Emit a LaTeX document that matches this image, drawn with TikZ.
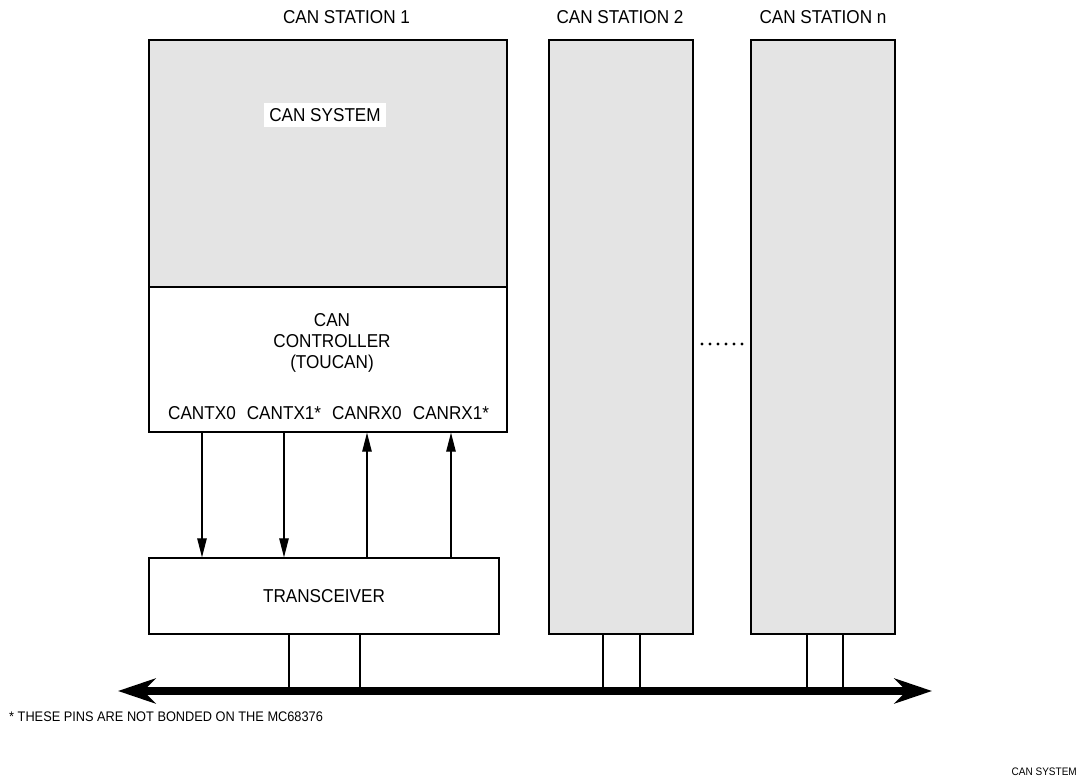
\documentclass[tikz,border=0pt]{standalone}
\usepackage{fontspec}
\setmainfont{Liberation Sans}[FakeStretch=0.92]
\usetikzlibrary{arrows.meta,positioning}

\definecolor{canGray}{HTML}{E4E4E4}

\tikzset{
  block/.style={draw, line width=0.8pt, inner sep=0pt},
  shaded/.style={block, fill=canGray},
  pinarrow/.style={line width=0.6pt, -{Triangle[length=0.38cm,width=0.19cm]}},
  stub/.style={line width=0.6pt},
  busline/.style={line width=4pt, {Stealth[length=0.75cm,width=0.5cm]}-{Stealth[length=0.75cm,width=0.5cm]}},
}

\begin{document}
\begin{tikzpicture}[font=\fontsize{10.6}{12}\selectfont]
  \useasboundingbox (0,0) rectangle (21.78,15.58);

  %===== CAN station 1 =====%
  \node (title1) at (6.93,15.24) {CAN STATION 1};
  \node[shaded, minimum width=7.16cm, minimum height=4.94cm] (sys1) at (6.56,12.31) {};
  \node[fill=white, inner sep=3pt] (sysLabel) at (6.5,13.28) {CAN SYSTEM};
  \node[block, minimum width=7.16cm, minimum height=2.90cm] (ctrl) at (6.56,8.39) {};
  \node[align=center] (ctrlLabel) at (6.64,8.72) {CAN\\CONTROLLER\\(TOUCAN)};

  % pins of the controller
  \node (tx0) at (4.04,7.32) {CANTX0};
  \node (tx1) at (5.68,7.32) {CANTX1*};
  \node (rx0) at (7.34,7.32) {CANRX0};
  \node (rx1) at (9.02,7.32) {CANRX1*};

  \node[block, minimum width=7.0cm, minimum height=1.52cm] (xcvr) at (6.48,3.66) {TRANSCEIVER};

  \draw[pinarrow] (tx0 |- ctrl.south) -- (tx0 |- xcvr.north);
  \draw[pinarrow] (tx1 |- ctrl.south) -- (tx1 |- xcvr.north);
  \draw[pinarrow] (rx0 |- xcvr.north) -- (rx0 |- ctrl.south);
  \draw[pinarrow] (rx1 |- xcvr.north) -- (rx1 |- ctrl.south);

  %===== CAN stations 2 and n =====%
  \node[shaded, minimum width=2.88cm, minimum height=11.88cm] (st2) at (12.42,8.84) {};
  \node (title2) at (12.40,15.24) {CAN STATION 2};
  \node[shaded, minimum width=2.88cm, minimum height=11.88cm] (stn) at (16.46,8.84) {};
  \node (titlen) at (16.46,15.24) {CAN STATION n};

  % dots between the stations
  \foreach \i in {0,...,5}
    \fill (14.04+0.16*\i,8.70) circle (0.9pt);

  %===== CAN bus =====%
  \coordinate (busL) at (2.36,1.76);
  \coordinate (busR) at (18.64,1.76);

  \draw[stub] ([xshift=-0.70cm]xcvr.south) -- ([xshift=-0.70cm]xcvr.south |- busL);
  \draw[stub] ([xshift=0.72cm]xcvr.south) -- ([xshift=0.72cm]xcvr.south |- busL);
  \draw[stub] ([xshift=-0.36cm]st2.south) -- ([xshift=-0.36cm]st2.south |- busL);
  \draw[stub] ([xshift=0.38cm]st2.south) -- ([xshift=0.38cm]st2.south |- busL);
  \draw[stub] ([xshift=-0.32cm]stn.south) -- ([xshift=-0.32cm]stn.south |- busL);
  \draw[stub] ([xshift=0.40cm]stn.south) -- ([xshift=0.40cm]stn.south |- busL);

  \draw[busline] (busL) -- (busR);

  %===== notes =====%
  \node[anchor=west, font=\fontsize{7.9}{9}\selectfont] (note) at (0.06,1.24)
    {* THESE PINS ARE NOT BONDED ON THE MC68376};
  \node[anchor=east, font=\fontsize{6.2}{7}\selectfont] (figName) at (21.66,0.14) {CAN SYSTEM};
\end{tikzpicture}
\end{document}
